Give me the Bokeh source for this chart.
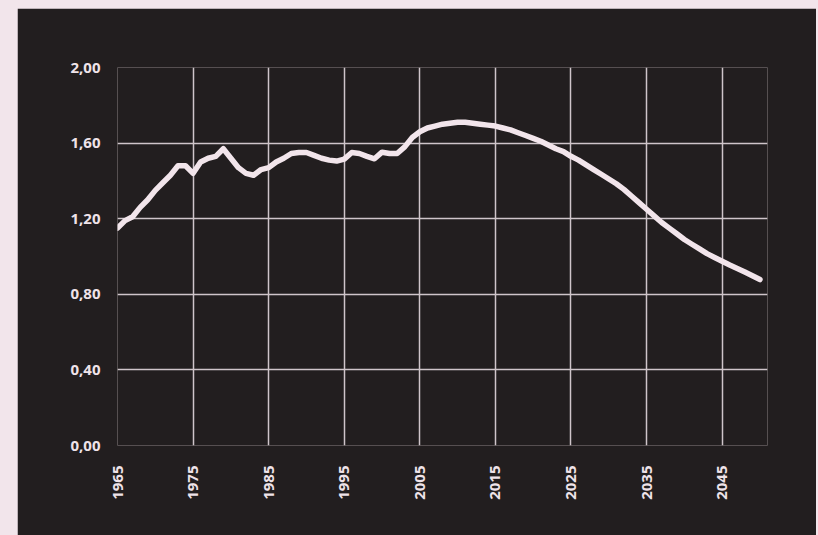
from bokeh.plotting import figure
from bokeh.models import Range1d, FixedTicker, CustomJSTickFormatter
from bokeh.embed import file_html
from bokeh.resources import INLINE
import math

years = list(range(1965, 2051))
values = [
    1.15, 1.19, 1.21, 1.26, 1.30, 1.35, 1.39, 1.43, 1.48, 1.48,   # 1965-1974
    1.44, 1.50, 1.52, 1.53, 1.57, 1.52, 1.47, 1.44, 1.43, 1.46,   # 1975-1984
    1.47, 1.50, 1.52, 1.545, 1.55, 1.55, 1.535, 1.52, 1.51, 1.505,  # 1985-1994
    1.515, 1.55, 1.545, 1.53, 1.517, 1.552, 1.545, 1.545, 1.58, 1.63,  # 1995-2004
    1.66, 1.68, 1.69, 1.70, 1.705, 1.71, 1.71, 1.705, 1.70, 1.695,  # 2005-2014
    1.69, 1.68, 1.67, 1.655, 1.64, 1.625, 1.61, 1.59, 1.57, 1.555,  # 2015-2024
    1.53, 1.51, 1.485, 1.46, 1.435, 1.41, 1.385, 1.355, 1.32, 1.285,  # 2025-2034
    1.25, 1.215, 1.18, 1.15, 1.12, 1.09, 1.065, 1.04, 1.015, 0.995,  # 2035-2044
    0.975, 0.955, 0.937, 0.918, 0.898, 0.878,  # 2045-2050
]
x_ticks = [1965, 1975, 1985, 1995, 2005, 2015, 2025, 2035, 2045]
y_ticks = [0.0, 0.4, 0.8, 1.2, 1.6, 2.0]

PINK = "#f2e5eb"
DARK = "#221e1f"
GRID = "#cfc5ca"
TEXT = "#efe3e9"

p = figure(width=799, height=527, output_backend="svg", toolbar_location=None,
           x_range=Range1d(1965, 2051), y_range=Range1d(0, 2.0),
           min_border_left=100, min_border_right=49, min_border_top=59, min_border_bottom=90)
p.margin = (8, 0, 0, 17)
p.background_fill_color = DARK
p.border_fill_color = DARK
p.outline_line_color = None

p.line(years, values, line_color=PINK, line_width=5.5, line_cap="round", line_join="round")

for ax in (p.xaxis, p.yaxis):
    ax.axis_line_color = None
    ax.major_tick_line_color = None
    ax.minor_tick_line_color = None
    ax.major_tick_out = 0
    ax.major_tick_in = 0
    ax.major_label_text_color = TEXT
    ax.major_label_text_font = "Open Sans"
    ax.major_label_text_font_style = "bold"
    ax.major_label_text_font_size = "15px"

p.xaxis.ticker = FixedTicker(ticks=x_ticks)
p.yaxis.ticker = FixedTicker(ticks=y_ticks)
p.xaxis.major_label_orientation = math.pi / 2
p.xaxis.major_label_standoff = 20
p.yaxis.major_label_standoff = 17
p.yaxis.formatter = CustomJSTickFormatter(code="return tick.toFixed(2).replace('.', ',');")

p.xgrid.grid_line_color = GRID
p.ygrid.grid_line_color = GRID
p.xgrid.grid_line_width = 1.5
p.ygrid.grid_line_width = 1.5

html = file_html(p, INLINE)
style = ("<style>html, body { background: %s !important; margin: 0 !important; "
         "padding: 0 !important; overflow: hidden !important; }</style>" % PINK)
html = html.replace("</head>", style + "</head>", 1)
open("out.html", "w").write(html)
